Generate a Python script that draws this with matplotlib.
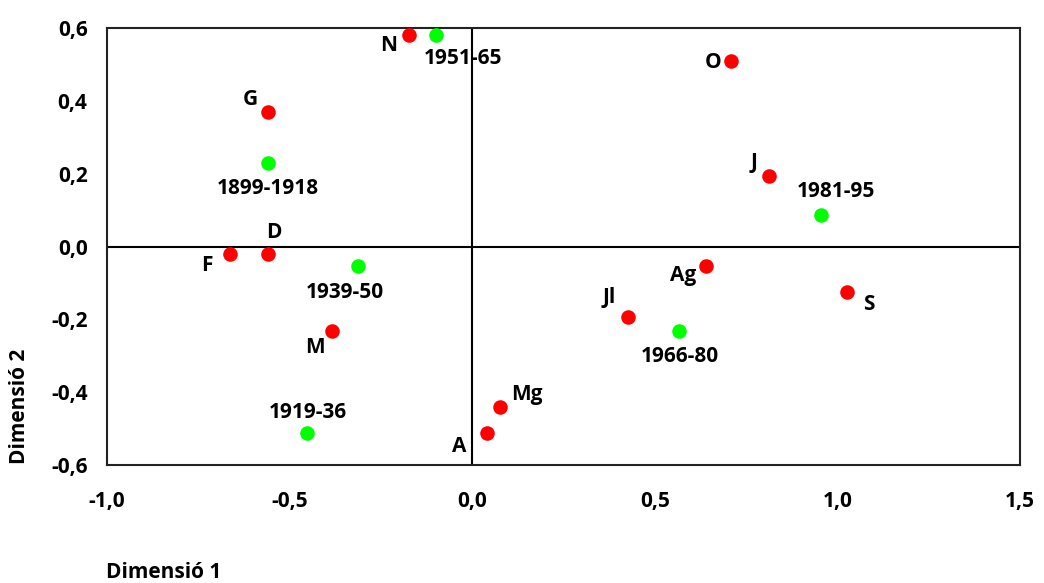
import matplotlib
matplotlib.use('Agg')
import matplotlib.pyplot as plt

plt.rcParams['font.family'] = ['Open Sans', 'DejaVu Sans']

# months (red) and periods (green) on the two dimensions
months = ['G', 'F', 'M', 'A', 'Mg', 'J', 'Jl', 'Ag', 'S', 'O', 'N', 'D']
months_x = [-0.558, -0.663, -0.383, 0.040, 0.075, 0.814, 0.426, 0.639, 1.025, 0.708, -0.172, -0.558]
months_y = [0.369, -0.019, -0.231, -0.513, -0.441, 0.194, -0.194, -0.052, -0.125, 0.511, 0.582, -0.019]

periods = ['1899-1918', '1919-36', '1939-50', '1951-65', '1966-80', '1981-95']
periods_x = [-0.558, -0.453, -0.312, -0.100, 0.567, 0.954]
periods_y = [0.229, -0.513, -0.052, 0.582, -0.231, 0.087]

xticks = [-1.0, -0.5, 0.0, 0.5, 1.0, 1.5]
xtick_labels = ['-1,0', '-0,5', '0,0', '0,5', '1,0', '1,5']
yticks = [-0.6, -0.4, -0.2, 0.0, 0.2, 0.4, 0.6]
ytick_labels = ['-0,6', '-0,4', '-0,2', '0,0', '0,2', '0,4', '0,6']

# label offsets in pixels (dx, dy)
month_off = {'G': (-18, 13), 'F': (-23, -12), 'M': (-17, -17), 'A': (-28, -13),
             'Mg': (27, 13), 'J': (-15, 14), 'Jl': (-19, 20), 'Ag': (-22, -10),
             'S': (22, -12), 'O': (-18, -2), 'N': (-21, -11), 'D': (5, 21)}
period_off = {'1899-1918': (-1, -25), '1919-36': (1, 21), '1939-50': (-13, -27),
              '1951-65': (27, -24), '1966-80': (1, -26), '1981-95': (15, 23)}

fig = plt.figure(figsize=(10.44, 5.83), dpi=100)
ax = fig.add_axes([0.1025, 0.2024, 0.8745, 0.7491])

ax.axhline(0, color='black', lw=1.5, zorder=1)
ax.axvline(0, color='black', lw=1.5, zorder=1)

ax.scatter(months_x, months_y, s=110, color='#ff0000', zorder=3, linewidths=0)
ax.scatter(periods_x, periods_y, s=110, color='#00ff00', zorder=3, linewidths=0)

fs = 15
fw = 'bold'
for name, x, y in zip(months, months_x, months_y):
    ax.annotate(name, (x, y), xytext=month_off[name], textcoords='offset pixels',
                ha='center', va='center', fontsize=fs, fontweight=fw)
for name, x, y in zip(periods, periods_x, periods_y):
    ax.annotate(name, (x, y), xytext=period_off[name], textcoords='offset pixels',
                ha='center', va='center', fontsize=fs, fontweight=fw)

ax.set_xlim(-1.0, 1.5)
ax.set_ylim(-0.6, 0.6)
ax.set_xticks(xticks)
ax.set_xticklabels(xtick_labels)
ax.set_yticks(yticks)
ax.set_yticklabels(ytick_labels)
ax.tick_params(length=0, labelsize=fs)
ax.tick_params(axis='x', pad=19)
ax.tick_params(axis='y', pad=14)
for lab in ax.get_xticklabels() + ax.get_yticklabels():
    lab.set_fontweight(fw)
for sp in ax.spines.values():
    sp.set_linewidth(1.5)
    sp.set_color('#222222')

fig.text(164 / 1044, 1 - 573 / 583, 'Dimensió 1', ha='center', va='center',
         fontsize=fs, fontweight=fw)
fig.text(20 / 1044, 1 - 406 / 583, 'Dimensió 2', ha='center', va='center',
         rotation=90, fontsize=fs, fontweight=fw)

fig.savefig('out.png', dpi=100)
